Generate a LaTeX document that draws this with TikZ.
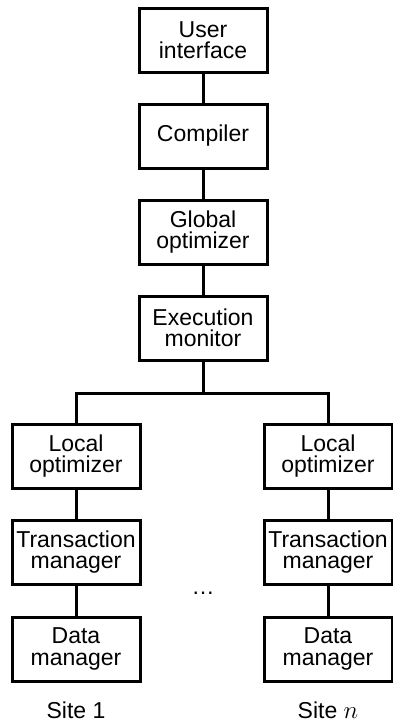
\documentclass[tikz,border=0pt]{standalone}
\usepackage{fontspec}
\setmainfont{Liberation Sans}

\begin{document}
\begin{tikzpicture}[x=1pt,y=-1pt,line width=3pt,font=\fontsize{23}{21.5}\selectfont,
  blk/.style={draw,minimum width=128pt,minimum height=64pt,inner sep=2pt,align=center}]
\useasboundingbox (0,0) rectangle (392,724);
\node[blk] (ui) at (203,40){User\\interface};
\node[blk] (cmp) at (203,136){Compiler};
\node[blk] (gop) at (203,232){Global\\optimizer};
\node[blk] (exm) at (203,328){Execution\\monitor};
\coordinate (split) at (203,393);
\draw (ui)--(cmp)--(gop)--(exm)--(split);
\foreach \c/\x/\lbl in {1/76/1,n/328/$n$}{
\node[blk] (loc\c) at (\x,456){Local\\optimizer};
\node[blk] (tm\c) at (\x,552){Transaction\\manager};
\node[blk] (dm\c) at (\x,649){Data\\manager};
\node (site\c) at (\x,710){Site \lbl};
\draw (split)-|(loc\c.north);
\draw (loc\c)--(tm\c)--(dm\c);}
\node (dots) at (203,593){\dots};
\end{tikzpicture}
\end{document}
